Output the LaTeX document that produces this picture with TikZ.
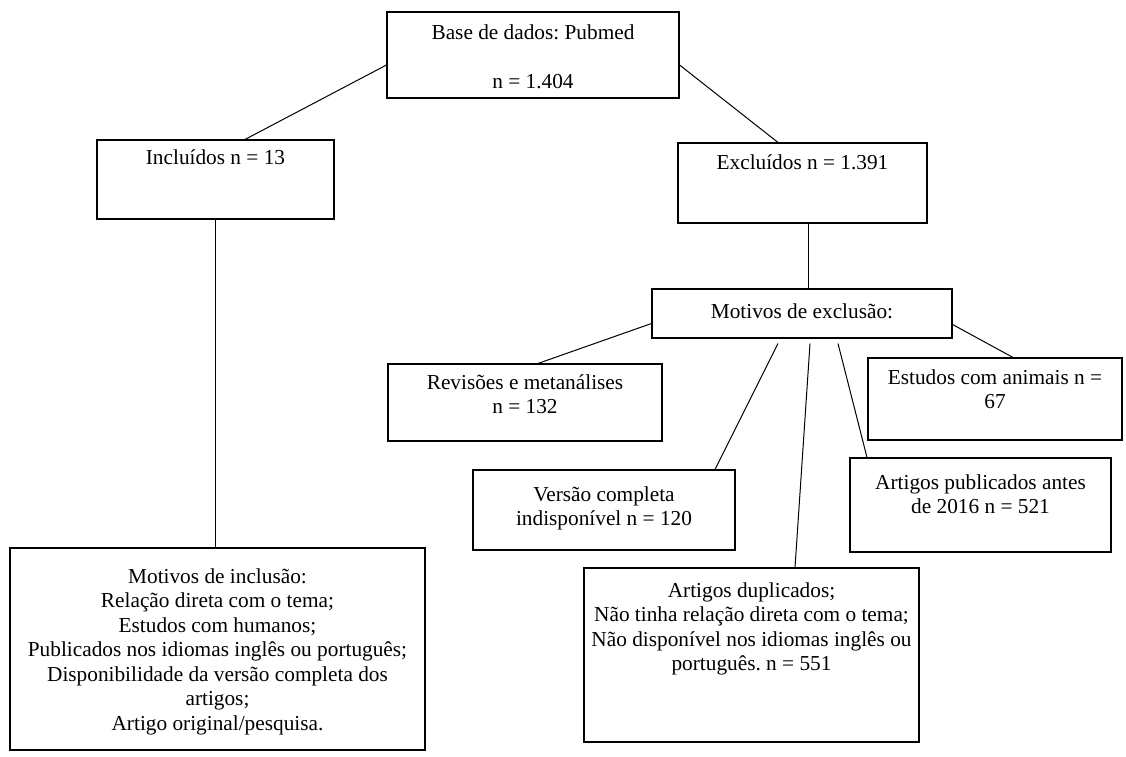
\documentclass[tikz,border=0pt]{standalone}
\usepackage{fontspec}
\setmainfont{Liberation Serif}
\usetikzlibrary{calc}
\frenchspacing

\newcommand{\caixatxt}[4]{\parbox[c][#2][t]{#1}{\centering\vspace*{#3}\fontsize{21.3}{24.5}\selectfont #4}}

\tikzset{
  caixa/.style={draw, line width=1.1pt, inner sep=0pt, fill=white},
  liga/.style={line width=1pt}
}

\begin{document}
\begin{tikzpicture}[x=1pt, y=-1pt]
        \useasboundingbox (0,0) rectangle (1126,756);

        \node[caixa] (base) at (533,55) {\caixatxt{292pt}{86pt}{10pt}{\strut Base de dados: Pubmed\\[24.5pt] n = 1.404}};

        \node[caixa] (incl) at (215.5,179.5) {\caixatxt{237pt}{79pt}{7pt}{\strut Incluídos n = 13}};
        \node[caixa] (excl) at (802.5,183) {\caixatxt{249pt}{80pt}{9pt}{\strut Excluídos n = 1.391}};

        \node[caixa] (motexc) at (802,313.5) {\caixatxt{300pt}{49pt}{12pt}{\strut Motivos de exclusão:}};

        \node[caixa] (rev) at (525,402.5) {\caixatxt{274pt}{77pt}{8pt}{\strut Revisões e metanálises\\ n = 132}};
        \node[caixa] (anim) at (995,399) {\caixatxt{254pt}{82pt}{9pt}{\strut Estudos com animais n =\\ 67}};
        \node[caixa] (versao) at (604,510) {\caixatxt{262pt}{80pt}{14pt}{\strut Versão completa\\ indisponível n = 120}};
        \node[caixa] (antes) at (980.5,505) {\caixatxt{261pt}{94pt}{14pt}{\strut Artigos publicados antes\\ de 2016 n = 521}};

        \node[caixa] (dup) at (751.5,655) {\caixatxt{335pt}{174pt}{12pt}{\strut Artigos duplicados;\\ Não tinha relação direta com o tema;\\ Não disponível nos idiomas inglês ou\\ português. n = 551}};
        \node[caixa] (motinc) at (217.5,649) {\caixatxt{415pt}{202pt}{18pt}{\strut Motivos de inclusão:\\ Relação direta com o tema;\\ Estudos com humanos;\\ Publicados nos idiomas inglês ou português;\\ Disponibilidade da versão completa dos\\ artigos;\\ Artigo original/pesquisa.}};

        % ramos
        \draw[liga] ($(base.west)+(0,10)$) -- ($(incl.north)+(29.5,0)$);
        \draw[liga] ($(base.east)+(0,10)$) -- ($(excl.north)+(-24.5,0)$);
        \draw[liga] (incl.south) -- (incl.south |- motinc.north);
        \draw[liga] ($(excl.south)+(5.5,0)$) -- ($(motexc.north)+(6,0)$);

        \draw[liga] ($(motexc.west)+(0,10)$) -- ($(rev.north)+(13,0)$);
        \draw[liga] ($(motexc.south)+(-24,5)$) -- ($(versao.north)+(111,0)$);
        \draw[liga] ($(motexc.south)+(8,5)$) -- ($(dup.north)+(43.5,0)$);
        \draw[liga] ($(motexc.south)+(36,5)$) -- ($(antes.north)+(-113.5,0)$);
        \draw[liga] ($(motexc.east)+(0,11)$) -- ($(anim.north)+(18,0)$);
\end{tikzpicture}
\end{document}
